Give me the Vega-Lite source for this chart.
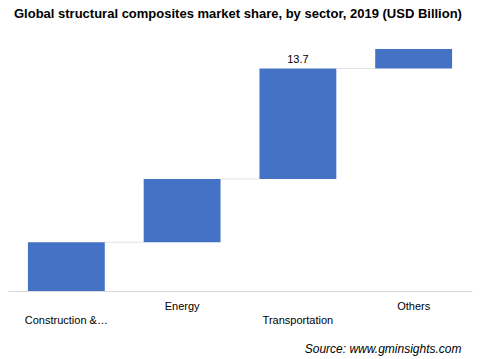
{
  "$schema": "https://vega.github.io/schema/vega-lite/v6.json",
  "width": 464,
  "height": 260,
  "autosize": "none",
  "padding": {"left": 8, "top": 31, "right": 26, "bottom": 68},
  "background": "white",
  "title": {
    "text": "Global structural composites market share, by sector, 2019 (USD Billion)",
    "anchor": "start",
    "frame": "group",
    "dx": 6,
    "offset": 10,
    "font": "Liberation Sans",
    "fontSize": 13,
    "fontWeight": "bold",
    "color": "#000000"
  },
  "config": {"view": {"stroke": null}},
  "datasets": {
    "bars": [
      {"sector": "Construction & Infrastructure", "start": 0, "end": 3.0, "gap": "g1"},
      {"sector": "Energy", "start": 3.0, "end": 6.9, "gap": "g2"},
      {"sector": "Transportation", "start": 6.9, "end": 13.7, "gap": "g3"},
      {"sector": "Others", "start": 13.7, "end": 14.9, "gap": null}
    ]
  },
  "data": {"name": "bars"},
  "resolve": {"scale": {"x": "independent"}, "axis": {"x": "independent"}},
  "layer": [
    {
      "transform": [{"filter": "datum.gap != null"}],
      "mark": {"type": "tick", "color": "#d9d9d9", "thickness": 1, "size": 39, "orient": "horizontal"},
      "encoding": {
        "x": {
          "field": "gap",
          "type": "nominal",
          "sort": null,
          "scale": {"type": "band", "paddingInner": 0.664, "paddingOuter": 0.832},
          "axis": null
        },
        "y": {"field": "end", "type": "quantitative", "scale": {"domain": [0, 16], "nice": false}, "axis": null}
      }
    },
    {
      "layer": [
        {
          "mark": {"type": "bar", "color": "#4472c4"},
          "encoding": {
            "y": {
              "field": "start",
              "type": "quantitative",
              "scale": {"domain": [0, 16], "nice": false, "zero": true},
              "axis": null
            },
            "y2": {"field": "end"}
          }
        },
        {
          "transform": [{"filter": "datum.sector == 'Transportation'"}],
          "mark": {"type": "text", "baseline": "bottom", "dy": -3, "font": "Liberation Sans", "fontSize": 11, "color": "#000000"},
          "encoding": {
            "y": {"field": "end", "type": "quantitative"},
            "text": {"field": "end", "type": "quantitative", "format": ".1f"}
          }
        }
      ],
      "encoding": {
        "x": {
          "field": "sector",
          "type": "nominal",
          "sort": null,
          "scale": {"paddingInner": 0.336, "paddingOuter": 0.172},
          "axis": {
            "title": "Source: www.gminsights.com",
            "titleFont": "Liberation Sans",
            "titleFontSize": 12,
            "titleFontStyle": "italic",
            "titleFontWeight": "normal",
            "titleColor": "#000000",
            "titleAnchor": "end",
            "titleAlign": "right",
            "titleX": 453,
            "titleY": 57,
            "titleBaseline": "middle",
            "labelAngle": 0,
            "labelFont": "Liberation Sans",
            "labelFontSize": 11,
            "labelColor": "#000000",
            "labelBaseline": "top",
            "labelLineHeight": 14,
            "labelExpr": "datum.value == 'Construction & Infrastructure' ? ['', 'Construction &…'] : datum.value == 'Transportation' ? ['', 'Transportation'] : datum.label",
            "labelPadding": 9,
            "ticks": false,
            "tickSize": 0,
            "domainColor": "#d9d9d9",
            "domainWidth": 1,
            "grid": false
          }
        }
      }
    }
  ]
}
